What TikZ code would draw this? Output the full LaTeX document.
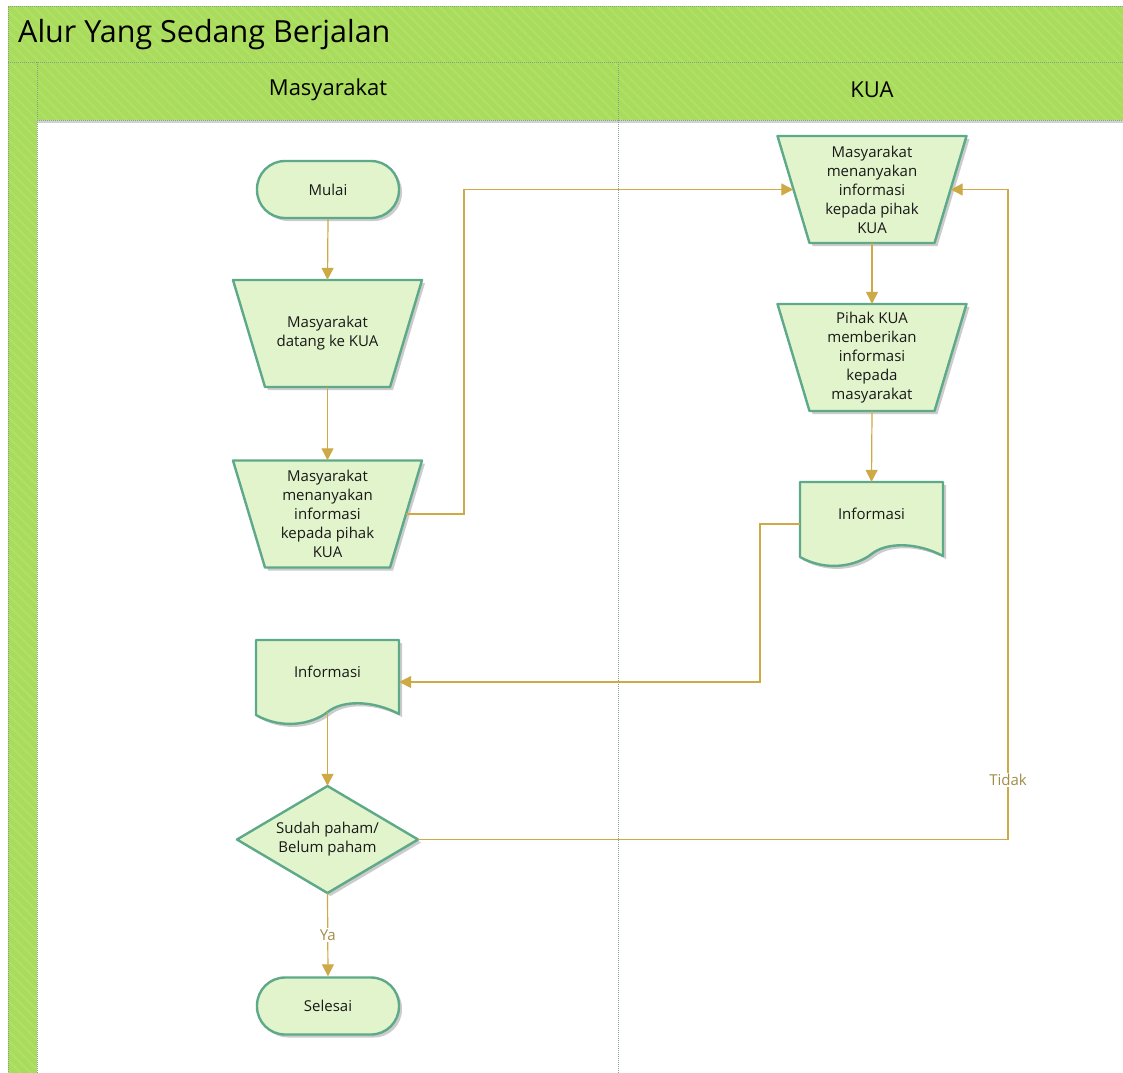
\documentclass[tikz,border=0pt]{standalone}
\usepackage{fontspec}
\setmainfont{Open Sans}
\usetikzlibrary{arrows.meta,shadows,patterns.meta}
\definecolor{hdrgreen}{HTML}{A9DC5C}
\definecolor{hdrstripe}{HTML}{B1E067}
\definecolor{shfill}{HTML}{E2F4CB}
\definecolor{shline}{HTML}{5EA98A}
\definecolor{connc}{HTML}{CDAA45}
\definecolor{lblc}{HTML}{A38C45}
\definecolor{framec}{HTML}{7FA68A}
\tikzset{
 shp/.style={draw=shline,line width=2.4pt,fill=shfill,line join=round},
 shd/.style={drop shadow={shadow xshift=3pt,shadow yshift=-3pt,fill=black!20,opacity=1}},
 txt/.style={align=center,font=\fontsize{15}{19}\selectfont,inner sep=0pt,text=black!90},
 term/.style={shp,shd,txt,rounded corners=28pt,minimum width=142pt,minimum height=57pt},
 tbox/.style={txt,minimum width=157pt,minimum height=107pt},
 dbox/.style={txt,minimum width=143pt,minimum height=84pt,text height=10pt,text depth=20pt},
 flow/.style={draw=connc,line width=1.2pt,-{Triangle[width=12pt,length=12pt]}},
 lbl/.style={font=\fontsize{15}{17}\selectfont,text=lblc,fill=white,inner sep=1.5pt},
 fr/.style={draw=framec,line width=1pt,densely dotted},
 hdr/.style={fill=hdrgreen,postaction={pattern={Lines[angle=-45,distance=7pt,line width=2pt]},pattern color=hdrstripe}},
}
\newcommand\mytrap[2]{%
 \path[shp,shd] (#1-94.5,#2-53.5) -- (#1+94.5,#2-53.5) -- (#1+62.5,#2+53.5) -- (#1-62.5,#2+53.5) -- cycle;}
\newcommand\mydoc[2]{%
 \path[shp,shd] (#1-71.5,#2) -- (#1+71.5,#2) -- (#1+71.5,#2+74)
   .. controls (#1+45,#2+60) and (#1+15,#2+60) .. (#1,#2+72)
   .. controls (#1-15,#2+84) and (#1-45,#2+90) .. (#1-71.5,#2+75) -- cycle;}
\begin{document}
\begin{tikzpicture}[x=1pt,y=-1pt]
\useasboundingbox (0,0) rectangle (1123,1072);
\fill[white] (0,0) rectangle (1123,1072);
% pool and lanes
\path[hdr] (8,6) rectangle (1135,62);
\path[hdr] (8,62) rectangle (37,1080);
\path[hdr] (37,62) rectangle (1135,120);
\fill[black!18] (37,120) rectangle (1135,123);
\draw[fr] (8,1080) -- (8,6) -- (1135,6);
\draw[fr] (8,62) -- (1135,62);
\draw[fr] (37,62) -- (37,1080);
\draw[fr] (37,120) -- (1135,120);
\draw[fr] (618,62) -- (618,1080);
\node[anchor=west,inner sep=0pt,font=\fontsize{30.5}{34}\selectfont] (title) at (18,35) {Alur Yang Sedang Berjalan};
\node[font=\fontsize{22}{26}\selectfont,inner sep=0pt] (lane1) at (328,90) {Masyarakat};
\node[font=\fontsize{22}{26}\selectfont,inner sep=0pt] (lane2) at (872,90) {KUA};
% shapes
\node[term] (mulai) at (328,189.5) {Mulai};
\mytrap{327.5}{333.5}
\node[tbox] (datang) at (327.5,333.5) {Masyarakat\\datang ke KUA};
\mytrap{327.5}{514}
\node[tbox] (tanya1) at (327.5,514) {Masyarakat\\menanyakan\\informasi\\kepada pihak\\KUA};
\mytrap{872}{189.5}
\node[tbox] (tanya2) at (872,189.5) {Masyarakat\\menanyakan\\informasi\\kepada pihak\\KUA};
\mytrap{872}{357.5}
\node[tbox] (beri) at (872,357.5) {Pihak KUA\\memberikan\\informasi\\kepada\\masyarakat};
\mydoc{871.5}{482}
\node[dbox] (info1) at (871.5,524) {Informasi};
\mydoc{327.5}{640}
\node[dbox] (info2) at (327.5,682) {Informasi};
\coordinate (info2b) at (327.5,712);
\path[shp,shd] (327.5,786) -- (418,839.5) -- (327.5,893) -- (237,839.5) -- cycle;
\node[txt,minimum width=181pt,minimum height=107pt] (dec) at (327.5,839.5) {Sudah paham/\\Belum paham};
\node[term] (selesai) at (328,1006) {Selesai};
% bend coordinates
\coordinate (b1) at (464,0);
\coordinate (b2) at (760,0);
\coordinate (b3) at (1008,0);
% connectors
\draw[flow] (mulai.south) -- (datang.north);
\draw[flow] (datang.south) -- (tanya1.north);
\draw[flow] (tanya1.east) -- (tanya1.east -| b1) |- (tanya2.west);
\draw[flow] (tanya2.south) -- (beri.north);
\draw[flow] (beri.south) -- (info1.north);
\draw[flow] (info1.west) -- (info1.west -| b2) |- (info2.east);
\draw[flow] (info2b) -- (dec.north);
\draw[flow] (dec.east) -- (dec.east -| b3) |- (tanya2.east);
\node[lbl] (tidak) at (1008,780) {Tidak};
\draw[flow] (dec.south) -- node[lbl] (ya) {Ya} (selesai.north);
\end{tikzpicture}
\end{document}
